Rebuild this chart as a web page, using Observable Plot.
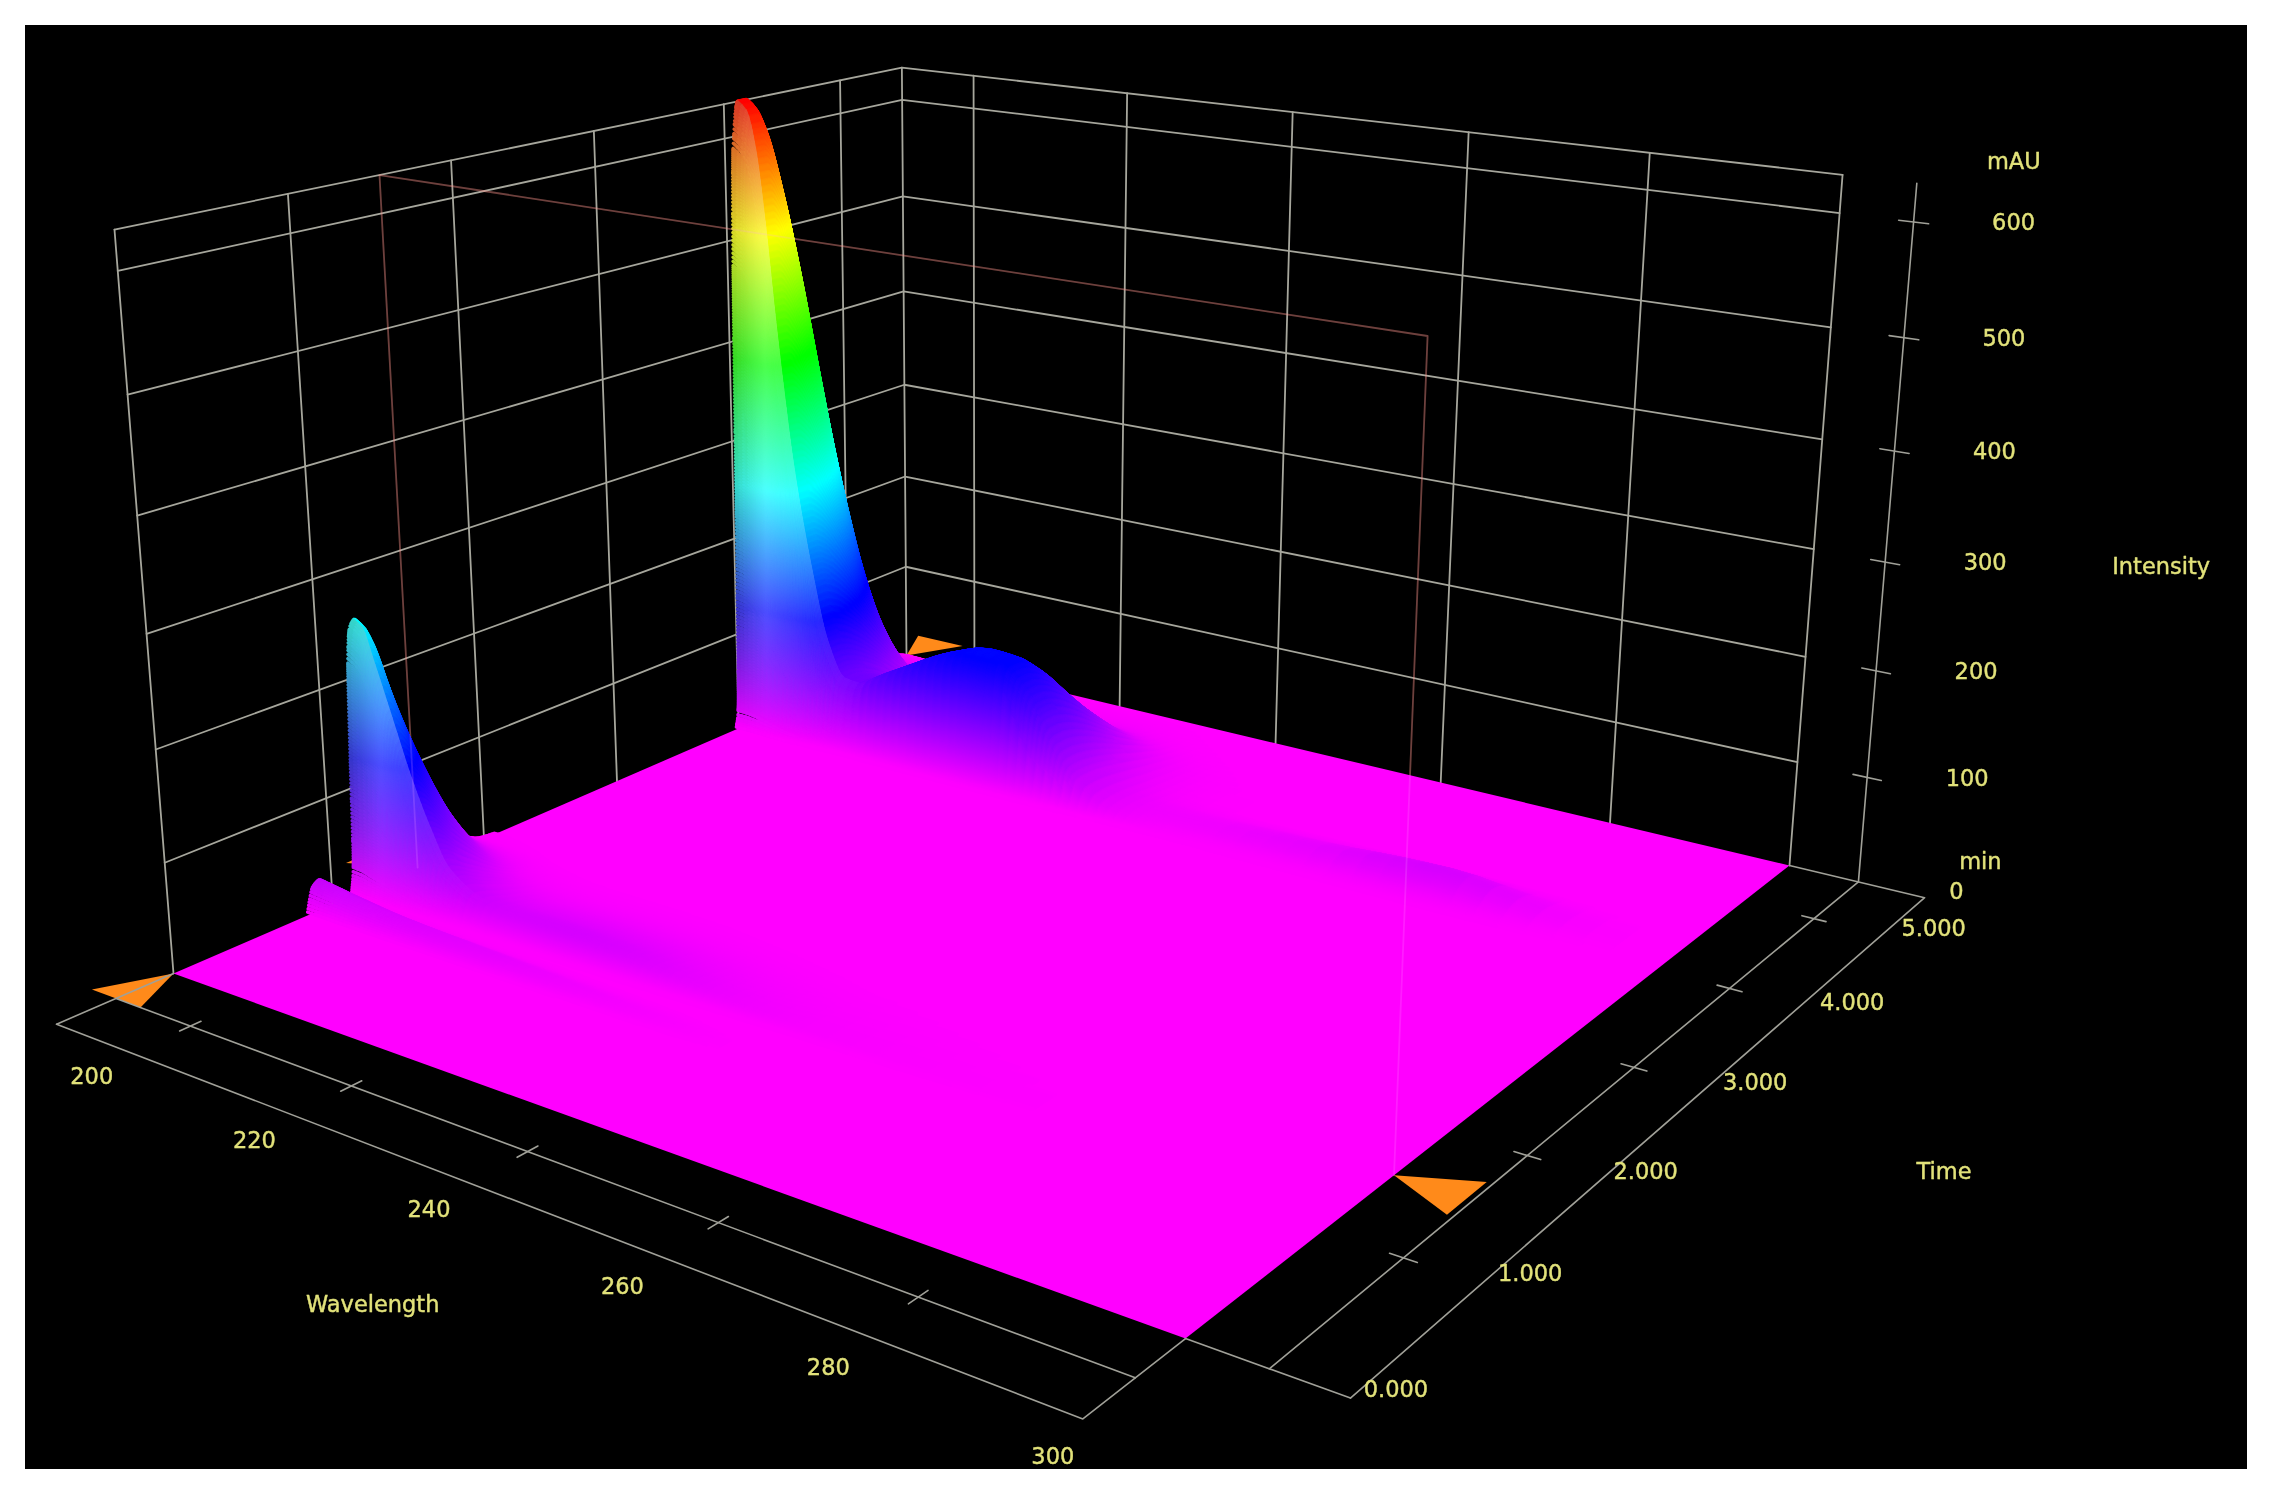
<!DOCTYPE html>
<html><head><meta charset="utf-8">
<script src="https://cdn.jsdelivr.net/npm/d3@7"></script>
<script src="https://cdn.jsdelivr.net/npm/@observablehq/plot@0.6"></script>
<style>html,body{margin:0;padding:0;background:#fff}svg{display:block}</style>
</head><body><div id="chart"></div>
<script>
// ---- values ----
const waveLabels = [200,220,240,260,280,300];
const waveLabelPos = [209.9,228.3,246.5,265,283,300.9];
const timeLabels = ["0.000","1.000","2.000","3.000","4.000","5.000"];
const timeLabelPos = [0.127,1.045,1.96,2.87,3.78,4.70];
const timeLabelWave = [314.5,314.7,314.7,315.3,315.8,315.7];
const intensityTicks = [100,200,300,400,500,600];
const gridWave = [209,227.4,246,264.5,282.3];
const gridTime = [0.89,1.82,2.72,3.62,4.5];
const cursorTime = 1.4;

// main peak: elution profile (relative) and spectrum (mAU)
const peak1Times  = [3.60,3.62,3.64,3.66,3.68,3.72,3.78,3.85,3.95,4.05,4.15,4.25,4.35,4.45,4.55,4.65,4.75,4.90,5.00];
const peak1Levels = [0,0.03,0.35,0.75,0.93,1,1,0.97,0.88,0.76,0.62,0.48,0.35,0.22,0.12,0.06,0.03,0.01,0];
const peak1Waves    = [200,201,202,203,204,205,206,208,210,212,214,216,218,220,222,225,228,231,234,237,240,244,248,255,300];
const peak1Spectrum = [633,625,590,520,430,350,280,180,105,72,70,80,90,100,110,122,130,128,105,65,30,10,3,0,0];

// first peak
const peak2Times  = [1.00,1.02,1.04,1.06,1.08,1.11,1.15,1.22,1.32,1.42,1.55,1.68,1.80,1.95];
const peak2Levels = [0,0.1,0.5,0.85,0.97,1,0.95,0.78,0.56,0.35,0.15,0.05,0.01,0];
const peak2Waves    = [200,201,202,204,206,208,210,214,218,224,230,236,242,250,260,270,280,300];
const peak2Spectrum = [252,246,222,170,118,76,44,24,20,20,18,13,8,4,2,1,0,0];

// small shoulder ahead of the first peak
const peak3Times  = [0.74,0.76,0.78,0.82,0.86,0.90,0.95,1.00,1.10];
const peak3Levels = [0,0.5,0.85,1,0.7,0.35,0.12,0.05,0];
const peak3Waves    = [200,205,210,220,230,240,250,300];
const peak3Spectrum = [28,22,17,12,7,3,0,0];

// faint long-wavelength band of the main peak
const band4Times  = [3.60,3.68,3.75,3.82,3.90,3.98,4.08];
const band4Levels = [0,0.3,0.8,1,0.8,0.35,0];
const band4Waves    = [240,250,258,265,272,278,284,290,296];
const band4Spectrum = [0,5,9,12,18,20,12,4,0];

// ---- camera of the 3D view: (wavelength, time, mAU) -> picture ----
const zTop = 633;
const cam = [[773.1,990.3,-66.7,173],[95.3,-132,-759.4,973],[-0.2016,0.284,-0.0674,1]];
function P(w,t,z=0){
  const u=(w-200)/100,v=t/5,h=z/zTop;
  const d=cam[2][0]*u+cam[2][1]*v+cam[2][2]*h+cam[2][3];
  return [(cam[0][0]*u+cam[0][1]*v+cam[0][2]*h+cam[0][3])/d,(cam[1][0]*u+cam[1][1]*v+cam[1][2]*h+cam[1][3])/d];
}
function paths(list){
  const out=[]; list.forEach((pl,i)=>pl.forEach(p=>{const [x,y]=P(...p);out.push({id:i,x,y});})); return out;
}

// monotone evaluation of a read curve, used only to paint it smoothly
function smooth(xs,ys){
  const n=xs.length,s=[],m=new Array(n).fill(0);
  for(let i=0;i<n-1;i++)s.push((ys[i+1]-ys[i])/(xs[i+1]-xs[i]));
  for(let i=1;i<n-1;i++)m[i]=s[i-1]*s[i]<=0?0:2*s[i-1]*s[i]/(s[i-1]+s[i]);
  m[0]=s[0];m[n-1]=s[n-2];
  return x=>{
    if(x<=xs[0])return ys[0]; if(x>=xs[n-1])return ys[n-1];
    let i=d3.bisectRight(xs,x)-1; const h=xs[i+1]-xs[i],q=(x-xs[i])/h,q2=q*q,q3=q2*q;
    return (2*q3-3*q2+1)*ys[i]+(q3-2*q2+q)*h*m[i]+(-2*q3+3*q2)*ys[i+1]+(q3-q2)*h*m[i+1];
  };
}
const comps=[[peak1Times,peak1Levels,peak1Waves,peak1Spectrum,1],[peak2Times,peak2Levels,peak2Waves,peak2Spectrum,1],[peak3Times,peak3Levels,peak3Waves,peak3Spectrum,0.4],[band4Times,band4Levels,band4Waves,band4Spectrum,0]]
  .map(([a,b,c,d,r])=>({T:a,L:b,E:smooth(a,b),S:smooth(c,d),peak:a[b.indexOf(Math.max(...b))],smax:Math.max(...d),r}));
const surf=(w,t)=>d3.sum(comps,c=>Math.max(0,c.E(t))*Math.max(0,c.S(w)));
const rising=t=>{for(const c of comps){if(c.r>0&&t>=c.T[0]&&t<c.peak)return c.r;}return 0;};

// painting grid
const cols=[]; for(let w=200;w<212;w+=0.5)cols.push(w); for(let w=212;w<250;w+=1)cols.push(w); for(let w=250;w<=300;w+=2.5)cols.push(w);
const rowSet=new Set();
comps.forEach(c=>{for(let i=0;i<c.T.length-1;i++){
  const dt=c.T[i+1]-c.T[i];
  const n=Math.max(2,Math.ceil(Math.abs(c.L[i+1]-c.L[i])*c.smax/3),Math.ceil(dt/0.007));
  for(let k=0;k<n;k++)rowSet.add(+(c.T[i]+dt*k/n).toFixed(5));
}});
const rows=[...rowSet].sort(d3.descending);
function colour(z,t,w){
  const c=d3.hsl(300*(1-Math.min(z/zTop,1)),1,0.5);
  const r=rising(t)*Math.min(1,z/120);
  if(r>0){
    const pale=Math.max(0,1-(w-200)/3.5);
    const lite=Math.min(1,(w-200)/3.5)*Math.max(0,1-(w-206)/10);
    let col=d3.interpolateRgb(c,"#8c8c60")(0.36*pale*r);
    return d3.interpolateRgb(col,"#ffffff")(0.24*lite*r);
  }
  return c.formatHex();
}
const segs=[];
for(const t of rows){
  for(let i=0;i<cols.length-1;i++){
    const w1=cols[i],w2=cols[i+1],z1=surf(w1,t),z2=surf(w2,t);
    if(z1<0.8&&z2<0.8)continue;
    const k=Math.max(1,Math.ceil(Math.abs(z2-z1)/7));
    let pw=w1,pz=z1;
    for(let j=1;j<=k;j++){
      const qw=w1+(w2-w1)*j/k,qz=j===k?z2:surf(qw,t);
      const a=P(pw,t,pz),b=P(qw,t,qz);
      segs.push({x1:a[0],y1:a[1],x2:b[0],y2:b[1],c:colour((pz+qz)/2,t,(pw+qw)/2)});
      pw=qw;pz=qz;
    }
  }
}

// ---- static structure ----
const gridLines=paths([
  ...[...intensityTicks,zTop].map(z=>[[200,0,z],[200,5,z],[300,5,z]]),
  ...[0,...gridTime,5].map(t=>[[200,t,0],[200,t,zTop]]),
  ...gridWave.concat([300]).map(w=>[[w,5,0],[w,5,zTop]])
]);
const axisLines=paths([
  [[200,-0.6],[200,0]],[[200,-0.3],[300,-0.3]],[[200,-0.6],[300,-0.6],[300,0]],
  [[300,0],[312.6,0]],[[306.5,0],[306.5,5]],[[312.6,0],[312.6,5],[300,5]],
  [[306.5,5,0],[306.5,5,zTop]],
  ...gridWave.map(w=>[[w,-0.355],[w,-0.245]]),
  ...gridTime.map(t=>[[305.4,t],[307.6,t]]),
  ...intensityTicks.map(z=>[[305.2,5,z],[307.8,5,z]])
]);
const cursorLine=paths([[[200,cursorTime,0],[200,cursorTime,zTop],[300,cursorTime,zTop],[300,cursorTime,0]]]);
const markers=paths([
  [[200,0],[197,-0.3],[203,-0.3]],
  [[200,5],[197,5.3],[203,5.3]],
  [[300,cursorTime],[306,cursorTime-0.15],[306,cursorTime+0.15]],
  [[200,cursorTime],[194,cursorTime-0.15],[194,cursorTime+0.15]]
]);
const floor=paths([[[200,0],[300,0],[300,5],[200,5]]]);
const imageBox=[{x1:25,x2:2247,y1:25,y2:1469}];

const txt={fontFamily:"DejaVu Sans",fontSize:22.5,fill:"#e2e27a",stroke:"#e2e27a",strokeWidth:0.4};
const tx=(arr,f,label,o={})=>Plot.text(arr,{x:d=>f(d)[0],y:d=>f(d)[1],text:label,...txt,...o});

const chart=Plot.plot({
  width:2277,height:1491,margin:0,
  x:{domain:[0,2277],range:[0,2277],axis:null},
  y:{domain:[0,1491],range:[0,1491],axis:null},
  color:{type:"identity"},
  style:{background:"#fff",filter:"blur(0.7px)"},
  marks:[
    Plot.rect(imageBox,{x1:"x1",x2:"x2",y1:"y1",y2:"y2",fill:"#000"}),
    Plot.line(gridLines,{x:"x",y:"y",z:"id",stroke:"#a6a69c",strokeWidth:1.8}),
    Plot.line(cursorLine,{x:"x",y:"y",z:"id",stroke:"#ff9040",strokeOpacity:0.3,strokeWidth:1.8}),
    Plot.line(markers,{x:"x",y:"y",z:"id",fill:"#ff8a1a",stroke:"none"}),
    Plot.line(floor,{x:"x",y:"y",z:"id",fill:"#ff00ff",stroke:"none"}),
    Plot.link(segs,{x1:"x1",y1:"y1",x2:"x2",y2:"y2",stroke:"c",strokeWidth:3.5,strokeLinecap:"round"}),
    Plot.line(cursorLine,{x:"x",y:"y",z:"id",stroke:"#ffa0ff",strokeOpacity:0.18,strokeWidth:1.8}),
    Plot.line(axisLines,{x:"x",y:"y",z:"id",stroke:"#a0a098",strokeWidth:1.6}),
    tx(d3.range(6),i=>P(waveLabelPos[i],-0.83),i=>String(waveLabels[i])),
    tx(d3.range(6),i=>P(timeLabelWave[i],timeLabelPos[i]),i=>timeLabels[i]),
    tx(intensityTicks,z=>P(306.5,5,z),z=>String(z),{dx:100,dy:1}),
    tx([0],z=>P(306.5,5,z),()=>"0",{dx:98,dy:10}),
    tx(["mAU"],()=>P(306.5,5,zTop),d=>d,{dx:97,dy:-21}),
    tx(["min"],()=>P(306.5,5,0),d=>d,{dx:122,dy:-20}),
    tx(["Intensity"],()=>P(306.5,5,300),d=>d,{dx:276,dy:5}),
    tx(["Time"],()=>P(333.4,2.57),d=>d,{dx:-10,dy:-6}),
    tx(["Wavelength"],()=>P(252.9,-1.41),d=>d)
  ]
});
document.getElementById("chart").append(chart);
</script></body></html>
